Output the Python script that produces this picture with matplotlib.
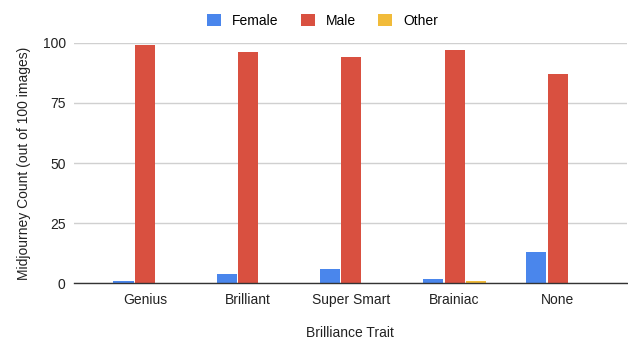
import numpy as np
import matplotlib
matplotlib.use('Agg')
import matplotlib.pyplot as plt
from matplotlib.patches import Patch

plt.rcParams['font.family'] = ['Liberation Sans', 'DejaVu Sans']

traits = ['Genius', 'Brilliant', 'Super Smart', 'Brainiac', 'None']
female = [1, 4, 6, 2, 13]
male = [99, 96, 94, 97, 87]
other = [0, 0, 0, 1, 0]
series = ['Female', 'Male', 'Other']
colors = ['#4a86ec', '#d95040', '#f1bb3a']

fig = plt.figure(figsize=(6.28, 3.43), dpi=100)
ax = fig.add_axes([0.1178, 0.174, 0.880, 0.7015])

x = np.arange(len(traits))
w = 0.194
step = 0.208
for i, (vals, c) in enumerate(zip([female, male, other], colors)):
    ax.bar(x + (i - 1) * step, vals, width=w, color=c, zorder=3)

ax.set_xlim(-0.688, 4.668)
ax.set_ylim(0, 100)
ax.set_yticks([0, 25, 50, 75, 100])
ax.set_xticks(x)
ax.set_xticklabels(traits)
ax.tick_params(axis='both', length=0, labelsize=10, colors='#222222')
ax.tick_params(axis='y', pad=6)
ax.tick_params(axis='x', pad=7)
ax.grid(axis='y', color='#d0d0d0', linewidth=1, zorder=0)
for s in ['top', 'right', 'left']:
    ax.spines[s].set_visible(False)
ax.spines['bottom'].set_color('#333333')
ax.spines['bottom'].set_linewidth(1)
ax.spines['bottom'].set_zorder(4)

ax.set_ylabel('Midjourney Count (out of 100 images)', fontsize=10, color='#222222', labelpad=8)
ax.set_xlabel('Brilliance Trait', fontsize=10, color='#222222', labelpad=14)

handles = [Patch(facecolor=c, label=s) for s, c in zip(series, colors)]
fig.legend(handles=handles, loc='center', bbox_to_anchor=(0.514, 0.94), ncol=3,
           frameon=False, fontsize=10, handlelength=1.0, handleheight=1.0,
           handletextpad=0.8, columnspacing=1.6)

plt.savefig('out.png', dpi=100)
